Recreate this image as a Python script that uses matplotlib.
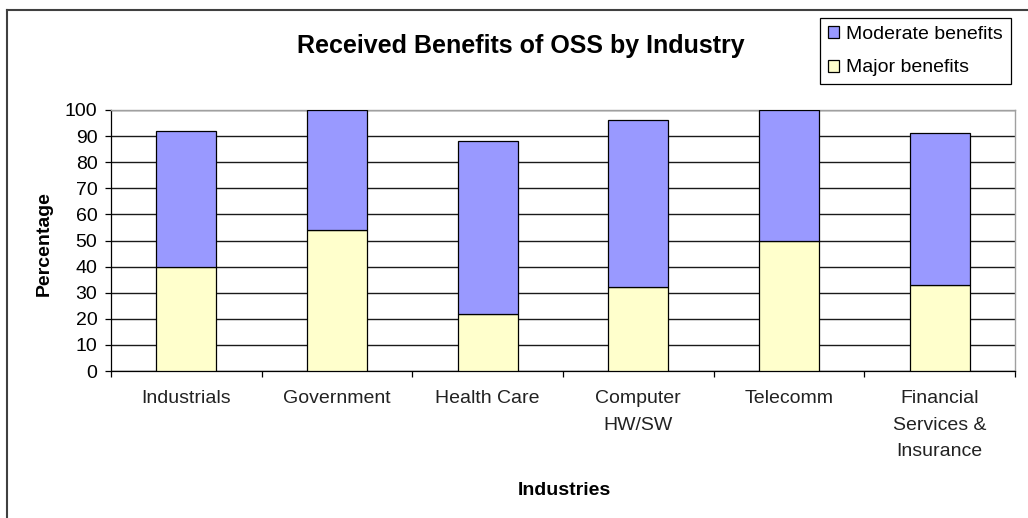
import matplotlib
matplotlib.use("Agg")
import matplotlib.pyplot as plt
from matplotlib.patches import Patch
from matplotlib.lines import Line2D
import numpy as np

plt.rcParams['font.family'] = ['Liberation Sans', 'DejaVu Sans']

categories = ["Industrials", "Government", "Health Care", "Computer\nHW/SW",
              "Telecomm", "Financial\nServices &\nInsurance"]
major_benefits = [40, 54, 22, 32, 50, 33]
moderate_benefits = [52, 46, 66, 64, 50, 58]
y_ticks = [0, 10, 20, 30, 40, 50, 60, 70, 80, 90, 100]

MODERATE_COLOR = '#9999FF'
MAJOR_COLOR = '#FFFFCC'

W, H = 1028, 518
fig = plt.figure(figsize=(W / 100, H / 100), dpi=100)
fig.patch.set_facecolor('white')

# plot area
ax_left, ax_right, ax_top, ax_bottom = 111, 1015, 110, 371
ax = fig.add_axes([ax_left / W, 1 - ax_bottom / H,
                   (ax_right - ax_left) / W, (ax_bottom - ax_top) / H])

x = np.arange(len(categories))
ax.bar(x, major_benefits, width=0.4, color=MAJOR_COLOR, edgecolor='black',
       linewidth=0.9, zorder=3, label='Major benefits')
ax.bar(x, moderate_benefits, width=0.4, bottom=major_benefits,
       color=MODERATE_COLOR, edgecolor='black', linewidth=0.9, zorder=3,
       label='Moderate benefits')

ax.set_xlim(-0.5, len(categories) - 0.5)
ax.set_ylim(0, 100)
ax.set_yticks(y_ticks)
ax.tick_params(axis='y', which='major', length=4.3, width=0.9, pad=5.5,
               labelsize=14, colors='black', direction='out')

# category separators as major ticks, labels centred under the bars
ax.set_xticks(np.arange(-0.5, len(categories), 1.0))
ax.set_xticklabels([])
ax.set_xticks(x, minor=True)
ax.set_xticklabels(categories, minor=True, linespacing=1.75)
ax.tick_params(axis='x', which='major', length=4.3, width=0.9, direction='out')
ax.tick_params(axis='x', which='minor', length=0, pad=13.5, labelsize=14,
               labelcolor='#222222')

ax.yaxis.grid(True, color='#1a1a1a', linewidth=1.0, zorder=0)
ax.set_axisbelow(True)

for side in ('left', 'bottom'):
    ax.spines[side].set_color('black')
    ax.spines[side].set_linewidth(0.9)
for side in ('top', 'right'):
    ax.spines[side].set_color('#a0a0a0')
    ax.spines[side].set_linewidth(1.0)

# titles and axis labels
fig.text(520.8 / W, 1 - 53.3 / H, 'Received Benefits of OSS by Industry',
         ha='center', va='baseline', fontsize=18, fontweight='bold')
fig.text(564 / W, 1 - 495 / H, 'Industries', ha='center', va='baseline',
         fontsize=14, fontweight='bold')
fig.text(44 / W, 1 - 244 / H, 'Percentage', ha='center', va='center',
         rotation=90, fontsize=14, fontweight='bold')

# legend
handles = [Patch(facecolor=MODERATE_COLOR, edgecolor='black', linewidth=0.9),
           Patch(facecolor=MAJOR_COLOR, edgecolor='black', linewidth=0.9)]
leg = fig.legend(handles, ['Moderate benefits', 'Major benefits'],
                 loc='upper left', bbox_to_anchor=(820 / W, 1 - 18 / H),
                 bbox_transform=fig.transFigure, borderaxespad=0,
                 fontsize=14, frameon=True, fancybox=False, shadow=False,
                 framealpha=1, edgecolor='black', borderpad=0.4,
                 handlelength=0.56, handleheight=0.56, handletextpad=0.4,
                 labelspacing=0.86)
leg.get_frame().set_linewidth(0.9)

# outer chart frame
fig.add_artist(Line2D([7 / W, 7 / W], [0, 1 - 10 / H], transform=fig.transFigure,
                      color='#404040', linewidth=1.5))
fig.add_artist(Line2D([7 / W, 1], [1 - 10 / H, 1 - 10 / H],
                      transform=fig.transFigure, color='#404040', linewidth=1.5))

fig.savefig('out.png', dpi=100)
